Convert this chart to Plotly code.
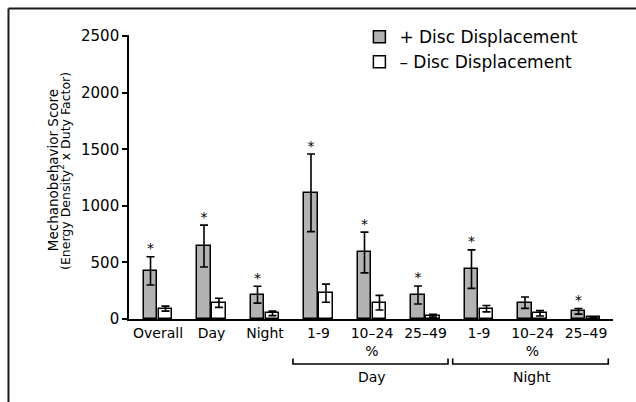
import plotly.graph_objects as go

categories = ["Overall", "Day", "Night", "1-9", "10–24<br>%", "25–49", "1-9", "10–24<br>%", "25–49"]
plus_vals = [425, 645, 215, 1115, 588, 212, 441, 144, 68]
plus_err = [125, 185, 75, 343, 180, 80, 170, 50, 25]
minus_vals = [92, 143, 50, 228, 144, 29, 91, 50, 15]
minus_err = [22, 40, 20, 80, 65, 12, 28, 24, 5]
significant = [True, True, True, True, True, True, True, False, True]
y_ticks = [0, 500, 1000, 1500, 2000, 2500]
groups = [("Day", 2.523, 5.421, 4), ("Night", 5.508, 8.417, 7)]

FONT = "DejaVu Sans"
xs = list(range(len(categories)))
bw = 0.26

fig = go.Figure()
fig.add_trace(go.Bar(
    x=xs, y=plus_vals, name="+ Disc Displacement",
    width=bw, offset=-0.27,
    marker=dict(color="#b3b3b3", line=dict(color="black", width=1.5)),
    error_y=dict(type="data", array=plus_err, color="black", thickness=1.6, width=4),
))
fig.add_trace(go.Bar(
    x=xs, y=minus_vals, name="– Disc Displacement",
    width=bw, offset=0.01,
    marker=dict(color="white", line=dict(color="black", width=1.5)),
    error_y=dict(type="data", array=minus_err, color="black", thickness=1.6, width=4),
))
sig_x = [i - 0.14 for i, s in zip(xs, significant) if s]
sig_y = [v + e for v, e, s in zip(plus_vals, plus_err, significant) if s]
fig.add_trace(go.Scatter(
    x=sig_x, y=sig_y,
    mode="text", text=["*"] * len(sig_x), textposition="top center",
    textfont=dict(family=FONT, size=14, color="#000000"),
    showlegend=False, hoverinfo="skip",
))

shapes = []
annotations = []
for name, x0, x1, xc in groups:
    shapes.append(dict(type="path", xref="x", yref="paper",
                       path=f"M {x0},-0.139 L {x0},-0.1585 L {x1},-0.1585 L {x1},-0.139",
                       line=dict(color="black", width=1.6)))
    annotations.append(dict(text=name, x=xc, y=-0.204, xref="x", yref="paper",
                            showarrow=False, yanchor="middle", xanchor="center",
                            font=dict(family=FONT, size=14, color="black")))

# frame (cropped at right / bottom)
shapes.append(dict(type="line", xref="paper", yref="paper", x0=-0.249, x1=1.05, y0=1.0933, y1=1.0933,
                   line=dict(color="#1a1a1a", width=2)))
shapes.append(dict(type="line", xref="paper", yref="paper", x0=-0.249, x1=-0.249, y0=1.0933, y1=-0.3,
                   line=dict(color="#1a1a1a", width=2)))

# y-axis title as two tight lines
annotations.append(dict(text="Mechanobehavior Score", x=-0.157, y=0.524, xref="paper", yref="paper",
                        textangle=-90, showarrow=False, xanchor="center", yanchor="middle",
                        font=dict(family=FONT, size=13.5, color="black")))
annotations.append(dict(text="(Energy Density<sup>2</sup> x Duty Factor)", x=-0.133, y=0.52,
                        xref="paper", yref="paper",
                        textangle=-90, showarrow=False, xanchor="center", yanchor="middle",
                        font=dict(family=FONT, size=12.5, color="black")))

fig.update_layout(
    width=636, height=402,
    margin=dict(l=129, r=23, t=35, b=83),
    plot_bgcolor="white", paper_bgcolor="white",
    font=dict(family=FONT, color="black"),
    showlegend=True,
    legend=dict(x=0.476, y=1.056, xanchor="left", yanchor="top",
                font=dict(family=FONT, size=17, color="black"),
                bgcolor="rgba(0,0,0,0)", itemwidth=30, tracegroupgap=0),
    shapes=shapes, annotations=annotations,
    bargap=0, bargroupgap=0,
)
fig.update_xaxes(
    range=[-0.542, 8.505], tickvals=xs, ticktext=categories,
    showline=True, linecolor="black", linewidth=1.6, ticks="",
    showgrid=False, zeroline=False,
    tickfont=dict(family=FONT, size=14, color="black"),
)
fig.update_yaxes(
    range=[0, 2510], tickvals=y_ticks, ticktext=[str(t) for t in y_ticks],
    showline=True, linecolor="black", linewidth=1.6, ticks="outside", ticklen=5,
    tickwidth=1.6, tickcolor="black", showgrid=False, zeroline=False,
    tickfont=dict(family=FONT, size=15, color="black"),
)

fig.write_html("out.html", config={"displayModeBar": False},
               post_script="document.body.style.margin='0';document.body.style.padding='0';")
